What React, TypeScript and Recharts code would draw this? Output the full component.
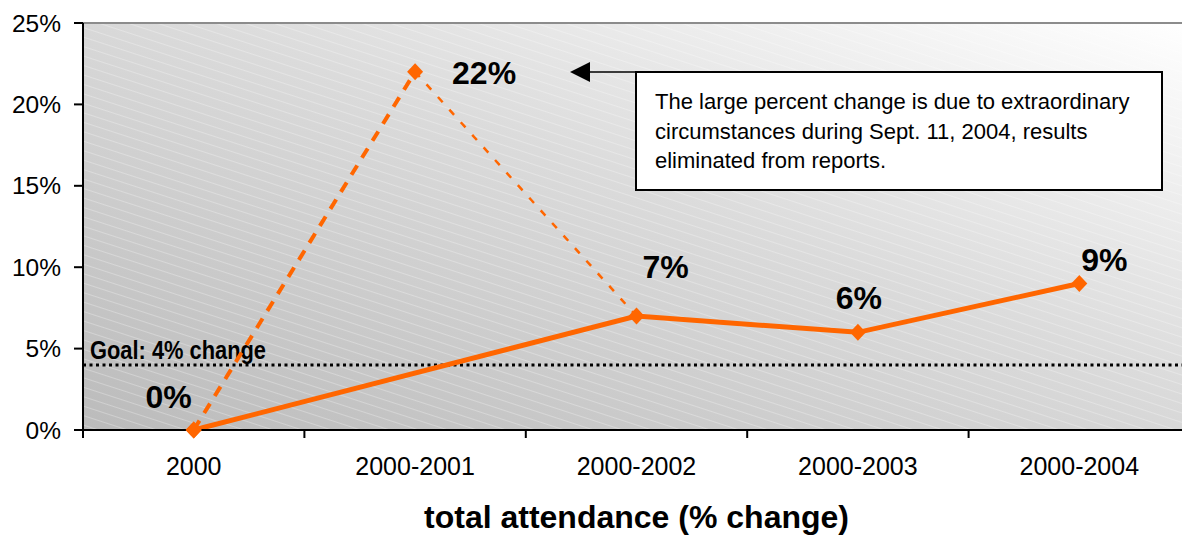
import {
  LineChart,
  Line,
  XAxis,
  YAxis,
  ReferenceLine,
  ReferenceArea,
  LabelList,
} from 'recharts';

// attendance change per period, in percent
const periods = ['2000', '2000-2001', '2000-2002', '2000-2003', '2000-2004'];
const reported = [0, null, 7, 6, 9];
// the 2000-2001 figure that was left out of the reported series
const spikeRise = [0, 22, null, null, null];
const spikeFall = [null, 22, 7, null, null];
const goalValue = 4;
const yTicks = [0, 5, 10, 15, 20, 25];

const data = periods.map((period, i) => ({
  period,
  reported: reported[i],
  spikeRise: spikeRise[i],
  spikeFall: spikeFall[i],
}));

const FONT = '"Liberation Sans", Arial, sans-serif';
const ORANGE = '#ff6600';
const CHART_W = 1190;
const CHART_H = 538;
const Y_AXIS_W = 83;
const X_AXIS_H = 108;
const TOP = 23;
const PLOT_BOTTOM = CHART_H - X_AXIS_H;
const BAND = (CHART_W - Y_AXIS_W) / periods.length;

// nudges for the value labels, relative to their point
const labelShift: Record<string, [number, number]> = {
  '2000': [-25, -33],
  '2000-2001': [69, 1],
  '2000-2002': [29, -49],
  '2000-2003': [1, -34],
  '2000-2004': [25, -23],
};

function Diamond(props: any) {
  const { cx, cy, value, index } = props;
  if (value == null || cx == null || cy == null) return <g key={`d-${index}`} />;
  return (
    <polygon
      key={`d-${index}`}
      points={`${cx},${cy - 8.5} ${cx + 8},${cy} ${cx},${cy + 8.5} ${cx - 8},${cy}`}
      fill={ORANGE}
    />
  );
}

function ValueLabel(props: any) {
  const { x, y, value, index } = props;
  if (value == null) return null;
  const [dx, dy] = labelShift[periods[index]];
  return (
    <text
      x={x + dx}
      y={y + dy}
      textAnchor="middle"
      dominantBaseline="central"
      fontFamily={FONT}
      fontWeight="bold"
      fontSize={32}
      fill="#000"
    >
      {`${value}%`}
    </text>
  );
}

function PeriodTick(props: any) {
  const { x, payload, index } = props;
  return (
    <g>
      <line x1={x - BAND / 2} x2={x - BAND / 2} y1={PLOT_BOTTOM} y2={PLOT_BOTTOM + 8} stroke="#000" strokeWidth={2} />
      {index === periods.length - 1 && (
        <line x1={x + BAND / 2} x2={x + BAND / 2} y1={PLOT_BOTTOM} y2={PLOT_BOTTOM + 8} stroke="#000" strokeWidth={2} />
      )}
      <text
        x={x}
        y={PLOT_BOTTOM + 36}
        textAnchor="middle"
        dominantBaseline="central"
        fontFamily={FONT}
        fontSize={25}
        fill="#000"
      >
        {payload.value}
      </text>
    </g>
  );
}

// the goal caption is set in a condensed bold face
function GoalLabel(props: any) {
  const { viewBox } = props;
  return (
    <text
      x={viewBox.x + 7}
      y={viewBox.y - 15}
      dominantBaseline="central"
      fontFamily={FONT}
      fontWeight="bold"
      fontSize={25}
      textLength={176}
      lengthAdjust="spacingAndGlyphs"
      fill="#000"
    >
      Goal: {goalValue}% change
    </text>
  );
}

export default function App() {
  return (
    <div style={{ position: 'relative', width: 1182, height: CHART_H, overflow: 'hidden', background: '#fff' }}>
      <style>{'body { margin: 0; }'}</style>
      <LineChart
        width={CHART_W}
        height={CHART_H}
        data={data}
        margin={{ top: TOP, right: 0, bottom: 0, left: 0 }}
      >
        <defs>
          <linearGradient id="plotShade" x1="0" y1="1" x2="1" y2="0">
            <stop offset="0%" stopColor="#bbbbbb" />
            <stop offset="55%" stopColor="#dbdbdb" />
            <stop offset="100%" stopColor="#ffffff" />
          </linearGradient>
          <pattern id="plotStripes" width="12" height="9" patternUnits="userSpaceOnUse" patternTransform="rotate(18)">
            <line x1="0" y1="0.5" x2="12" y2="0.5" stroke="#ffffff" strokeWidth={1} strokeOpacity={0.28} />
          </pattern>
        </defs>
        <ReferenceArea y1={0} y2={25} fill="url(#plotShade)" fillOpacity={1} stroke="none" />
        <ReferenceArea y1={0} y2={25} fill="url(#plotStripes)" fillOpacity={1} stroke="none" />
        <ReferenceLine y={25} stroke="#8c8c8c" strokeWidth={2} />
        <XAxis
          dataKey="period"
          scale="band"
          height={X_AXIS_H}
          axisLine={{ stroke: '#000', strokeWidth: 2 }}
          tickLine={false}
          tick={<PeriodTick />}
          interval={0}
          label={{
            value: 'total attendance (% change)',
            position: 'insideBottom',
            offset: 10,
            style: { fontFamily: FONT, fontWeight: 'bold', fontSize: 32, fill: '#000' },
          }}
        />
        <YAxis
          width={Y_AXIS_W}
          domain={[0, 25]}
          ticks={yTicks}
          tickFormatter={(v) => `${v}%`}
          axisLine={{ stroke: '#000', strokeWidth: 2 }}
          tickLine={{ stroke: '#000', strokeWidth: 2 }}
          tickSize={9}
          tickMargin={13}
          tick={{ fontFamily: FONT, fontSize: 24.5, fill: '#000' }}
        />
        <ReferenceLine
          y={goalValue}
          stroke="#000"
          strokeWidth={3}
          strokeDasharray="3 3.5"
          label={<GoalLabel />}
        />
        <Line
          dataKey="spikeRise"
          stroke={ORANGE}
          strokeWidth={4}
          strokeDasharray="11 9"
          dot={Diamond}
          activeDot={false}
          isAnimationActive={false}
        >
          <LabelList dataKey="spikeRise" content={(p: any) => (p.index === 1 ? <ValueLabel {...p} /> : null)} />
        </Line>
        <Line
          dataKey="spikeFall"
          stroke={ORANGE}
          strokeWidth={2.5}
          strokeDasharray="7 10"
          dot={false}
          activeDot={false}
          isAnimationActive={false}
        />
        <Line
          dataKey="reported"
          stroke={ORANGE}
          strokeWidth={5}
          connectNulls
          dot={Diamond}
          activeDot={false}
          isAnimationActive={false}
        >
          <LabelList dataKey="reported" content={ValueLabel} />
        </Line>
      </LineChart>

      {/* note pointing back at the 22% spike */}
      <svg
        width={80}
        height={30}
        style={{ position: 'absolute', left: 566, top: 57, overflow: 'visible' }}
      >
        <line x1={20} y1={15} x2={72} y2={15} stroke="#000" strokeWidth={1.5} />
        <polygon points="4,15 24,5 24,25" fill="#000" />
      </svg>
      <div
        style={{
          position: 'absolute',
          left: 635,
          top: 71,
          width: 528,
          height: 120,
          boxSizing: 'border-box',
          border: '2px solid #000',
          background: '#fff',
          padding: '14px 10px 0 18px',
          fontFamily: FONT,
          fontSize: 22,
          lineHeight: '29.5px',
          color: '#000',
        }}
      >
        The large percent change is due to extraordinary circumstances during Sept. 11, 2004, results eliminated
        from reports.
      </div>
    </div>
  );
}
